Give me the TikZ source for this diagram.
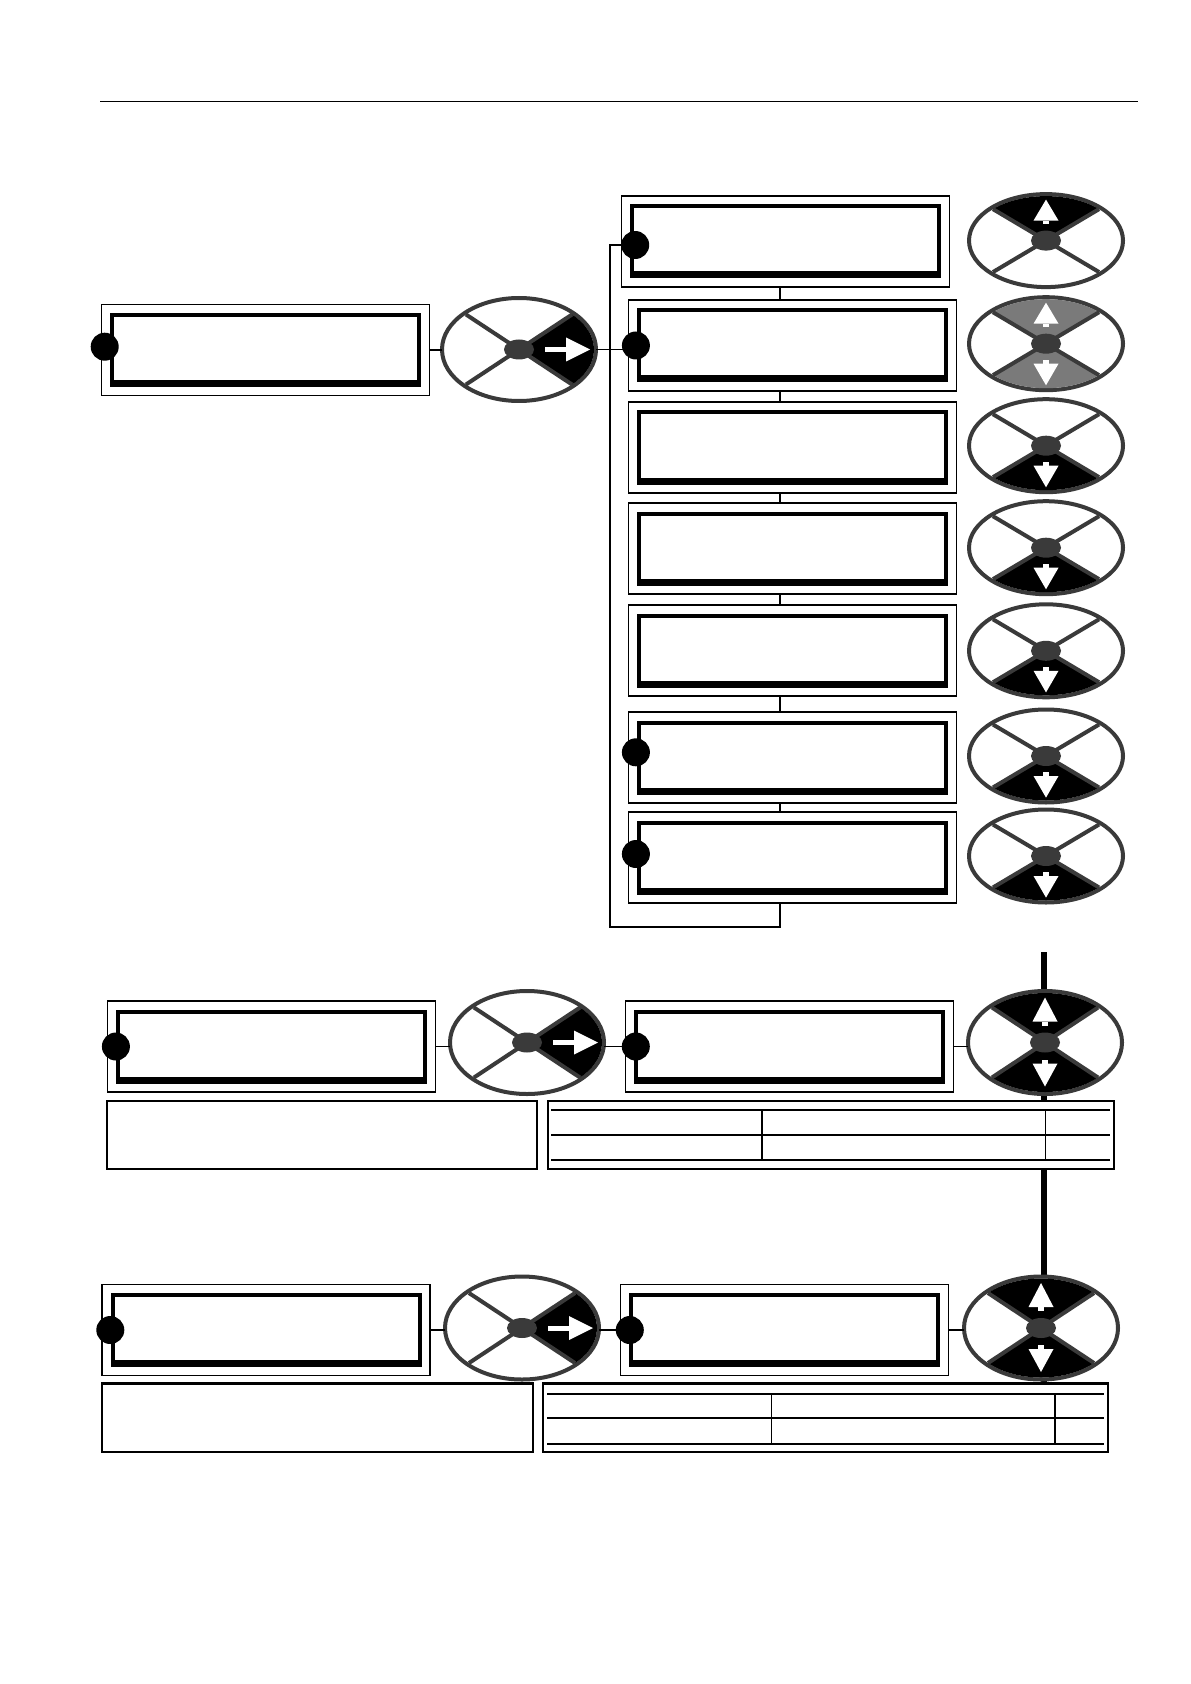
\documentclass[tikz,border=0pt]{standalone}
\usepackage{tikz}
\usetikzlibrary{positioning,shapes.geometric,backgrounds}
\usepackage{xcolor}
\definecolor{keydark}{RGB}{58,58,58}
\definecolor{keygray}{RGB}{122,122,122}

% display panel: outer frame, thick inner frame, heavier bottom edge
\newcommand{\lcdpanel}[2]{%
  \node[panel] (#1) at #2 {};
  \draw[line width=2pt] ([shift={(5.25pt,-5.25pt)}]#1.north west)
    rectangle ([shift={(-5.25pt,5.25pt)}]#1.south east);
  \fill ([shift={(4.25pt,4.25pt)}]#1.south west) rectangle ([shift={(-4.25pt,7.75pt)}]#1.south east);
}
% sectors, spokes and hub of a key wheel: name, inner x radius, inner y radius, from/to/colour list
\newcommand{\keyface}[4]{%
  \foreach \kfrom/\kto/\kcol in {#4}
    \fill[\kcol] (#1.center) -- ++(\kfrom:#2 and #3)
      arc[start angle=\kfrom, end angle=\kto, x radius=#2, y radius=#3] -- cycle;
  \foreach \kang in {45,135,225,315}
    \draw[spoke] (#1.center) -- ++(\kang:#2 and #3);
  \node[hub] (#1hub) at (#1.center) {};
}
% vertical white arrow: name, tip, base, end of stub
\newcommand{\keyarrow}[4]{%
  \fill[white] ([yshift=#2]#1.center) -- ([xshift=-6.25pt,yshift=#3]#1.center)
    -- ([xshift=6.25pt,yshift=#3]#1.center) -- cycle;
  \fill[white] ([xshift=-1.5pt,yshift=#3]#1.center) rectangle ([xshift=1.5pt,yshift=#4]#1.center);
}
% white arrow to the right
\newcommand{\keyright}[1]{%
  \fill[white] ([xshift=13pt,yshift=-1.25pt]#1.center) rectangle ([xshift=23.7pt,yshift=1.25pt]#1.center);
  \fill[white] ([xshift=35.5pt]#1.center) -- ([xshift=23.5pt,yshift=6pt]#1.center)
    -- ([xshift=23.5pt,yshift=-6pt]#1.center) -- cycle;
}

\tikzset{
  panel/.style={draw, line width=0.6pt, fill=white, minimum width=164pt, minimum height=45.5pt,
    inner sep=0pt, outer sep=0pt},
  led/.style={circle, fill=black, minimum size=14pt, inner sep=0pt},
  wheel/.style={ellipse, draw=keydark, line width=2pt, fill=white, inner sep=0pt, outer sep=0pt,
    minimum width=77pt, minimum height=51.5pt},
  flatwheel/.style={wheel, minimum height=46.5pt},
  hub/.style={ellipse, fill=keydark, inner sep=0pt, minimum width=15pt, minimum height=10pt},
  spoke/.style={draw=keydark, line width=2pt},
  wire/.style={line width=0.6pt},
  trunk/.style={line width=3pt},
  sheet/.style={draw, line width=0.6pt, fill=white, minimum height=34pt, inner sep=0pt},
}

\begin{document}
\begin{tikzpicture}[x=0.5pt, y=-0.5pt]
\useasboundingbox (0,0) rectangle (1190,1684);

\draw[line width=0.5pt] (100,102) -- (1138,102);

% first menu level
\lcdpanel{lcdTop}{(265.4,350)}
\node[led] (dTop) at ([xshift=1.65pt,yshift=1.65pt]lcdTop.west) {};
\node[wheel] (nav1) at (519,349.5) {};
\keyface{nav1}{37.5pt}{24.75pt}{-45/45/black}
\keyright{nav1}

\foreach \i/\bx/\by/\ky in {1/785.5/241.5/240.6, 2/792.5/345.5/343.7, 3/792.5/447.5/445.7,
    4/792.5/548.5/547.7, 5/792.5/650.5/650.8, 6/792.5/757.5/756, 7/792.5/857.5/856}
{
  \lcdpanel{lcd\i}{(\bx,\by)}
  \node[flatwheel] (key\i) at (1046,\ky) {};
}
\node[led] (d1) at ([xshift=6.85pt,yshift=-1.75pt]lcd1.west) {};
\node[led] (d2) at ([xshift=3.7pt]lcd2.west) {};
\node[led] (d6) at ([xshift=3.7pt,yshift=2.6pt]lcd6.west) {};
\node[led] (d7) at ([xshift=3.7pt,yshift=1.75pt]lcd7.west) {};

\keyface{key1}{37.5pt}{22.25pt}{45/135/black}
\keyarrow{key1}{20.5pt}{10pt}{8.5pt}
\keyface{key2}{37.5pt}{22.25pt}{45/135/keygray, 225/315/keygray}
\keyarrow{key2}{20.5pt}{10pt}{8.5pt}
\keyarrow{key2}{-20.8pt}{-10pt}{-8pt}
\foreach \i in {3,...,7}{
  \keyface{key\i}{37.5pt}{22.25pt}{225/315/black}
  \keyarrow{key\i}{-20.8pt}{-10pt}{-8pt}
}

\coordinate (spine) at (780,0);
\coordinate (loopcorner) at (610,927);
\draw[wire] (lcdTop.east) -- (lcdTop.east -| nav1.west);
\draw[wire] (nav1.east) -- (nav1.east -| d2.center);
\foreach \i/\j in {1/2,2/3,3/4,4/5,5/6,6/7}
  \draw[wire] (lcd\i.south -| spine) -- (lcd\j.north -| spine);
\draw[wire] (lcd7.south -| spine) |- (loopcorner) |- (d1.center);

% second row
\lcdpanel{lcdEdit}{(271.5,1046.5)}
\node[led] (dEdit) at ([xshift=4.2pt]lcdEdit.west) {};
\node[wheel] (navEdit) at (527,1042.5) {};
\keyface{navEdit}{37.5pt}{24.75pt}{-45/45/black}
\keyright{navEdit}
\lcdpanel{lcdSet}{(789.5,1046.5)}
\node[led] (dSet) at ([xshift=5.15pt]lcdSet.west) {};
\node[wheel] (keySet) at (1045,1042.5) {};
\keyface{keySet}{37.5pt}{24.75pt}{45/135/black, 225/315/black}
\keyarrow{keySet}{22.5pt}{10.5pt}{8.5pt}
\keyarrow{keySet}{-22pt}{-10.5pt}{-8.5pt}
\draw[wire] (lcdEdit.east) -- (lcdEdit.east -| navEdit.west);
\draw[wire] (dSet.center -| navEdit.east) -- (dSet.center);
\draw[wire] (lcdSet.east) -- (lcdSet.east -| keySet.west);

\node[sheet, minimum width=215pt] (noteSet) at (322,1135) {};
\node[sheet, minimum width=283pt] (tabSet) at (831,1135) {};
\foreach \y in {1110,1135,1160} \draw[wire] (551,\y) -- (1110,\y);
\foreach \x in {762,1045.5} \draw[wire] (\x,1110) -- (\x,1160);

% third row
\lcdpanel{lcdSave}{(266,1330)}
\node[led] (dSave) at ([xshift=4.15pt]lcdSave.west) {};
\node[wheel] (navSave) at (522,1328) {};
\keyface{navSave}{37.5pt}{24.75pt}{-45/45/black}
\keyright{navSave}
\lcdpanel{lcdStore}{(784.5,1330)}
\node[led] (dStore) at ([xshift=4.65pt]lcdStore.west) {};
\node[wheel] (keyStore) at (1041,1328) {};
\keyface{keyStore}{37.5pt}{24.75pt}{45/135/black, 225/315/black}
\keyarrow{keyStore}{22.5pt}{10.5pt}{8.5pt}
\keyarrow{keyStore}{-22pt}{-10.5pt}{-8.5pt}
\draw[wire] (lcdSave.east) -- (lcdSave.east -| navSave.west);
\draw[wire] (dStore.center -| navSave.east) -- (dStore.center);
\draw[wire] (lcdStore.east) -- (lcdStore.east -| keyStore.west);

\node[sheet, minimum width=215.5pt] (noteStore) at (317.5,1418) {};
\node[sheet, minimum width=282.5pt] (tabStore) at (825.5,1418) {};
\draw[line width=1.2pt] (noteStore.north west) -- (noteStore.north east);
\draw[line width=1.2pt] (tabStore.north west) -- (tabStore.north east);
\foreach \y in {1394,1418,1444} \draw[wire] (547,\y) -- (1104,\y);
\foreach \x in {771.5,1055} \draw[wire] (\x,1394) -- (\x,1444);

\coordinate (trunktop) at (1044,952);
\begin{scope}[on background layer]
  \draw[trunk] (trunktop) -- (trunktop |- tabStore.north);
\end{scope}
\end{tikzpicture}
\end{document}
